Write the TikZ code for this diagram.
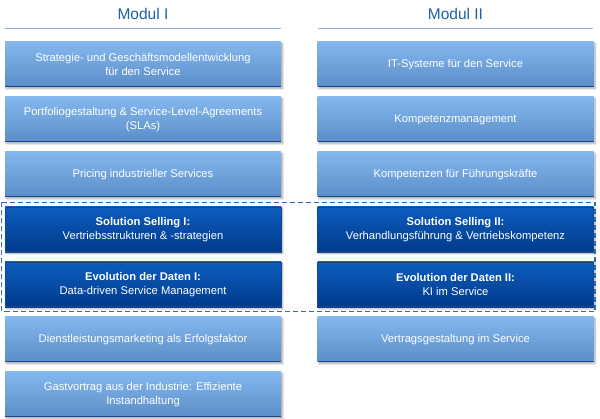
\documentclass[tikz,border=0pt]{standalone}
\usepackage{fontspec}
\setmainfont{Liberation Sans}
\usepackage{tikz}
\usetikzlibrary{shadows.blur}

\definecolor{kopf}{HTML}{1F5FA8}
\definecolor{kopflinie}{HTML}{8EB4E3}
\definecolor{hellOben}{HTML}{84B7EE}
\definecolor{hellUnten}{HTML}{5B8DC8}
\definecolor{dunkelOben}{HTML}{0D5DBE}
\definecolor{dunkelUnten}{HTML}{003A8C}
\definecolor{kante}{HTML}{17468F}
\definecolor{strich}{HTML}{2E6DB4}

\tikzset{
  modul/.style={minimum width=276pt,minimum height=45pt,inner sep=0pt,align=center,
    text=white,font=\fontsize{11.2}{14}\selectfont,
    blur shadow={shadow xshift=1.5pt,shadow yshift=-1.5pt,shadow blur steps=6,shadow opacity=35},
    path picture={\draw[kante,line width=2.5pt]
      (path picture bounding box.south west)--(path picture bounding box.south east);}},
  hell/.style={modul,top color=hellOben,bottom color=hellUnten},
  dunkel/.style={modul,top color=dunkelOben,bottom color=dunkelUnten,draw=kante,line width=0.6pt},
  titel/.style={text=kopf,font=\fontsize{15.5}{18}\selectfont}
}

\begin{document}
\begin{tikzpicture}[x=1pt,y=-1pt]
            \useasboundingbox (0,0) rectangle (600,419);
            % Kopfzeilen
            \node[titel] (m1) at (143,14) {Modul I};
            \node[titel] (m2) at (455.5,14) {Modul II};
            \draw[kopflinie,line width=1pt] (5,29)--(281,29);
            \draw[kopflinie,line width=1pt] (318,29)--(593,29);
            % Modul I
            \node[hell] (a1) at (143,64.5) {Strategie- und Geschäftsmodellentwicklung\\für den Service};
            \node[hell] (a2) at (143,119.5) {Portfoliogestaltung \& Service-Level-Agreements\\(SLAs)};
            \node[hell] (a3) at (143,174.5) {Pricing industrieller Services};
            \node[dunkel] (a4) at (143,229.5) {\textbf{Solution Selling I:}\\Vertriebsstrukturen \& -strategien};
            \node[dunkel] (a5) at (143,284.5) {\textbf{Evolution der Daten I:}\\Data-driven Service Management};
            \node[hell] (a6) at (143,339.5) {Dienstleistungsmarketing als Erfolgsfaktor};
            \node[hell] (a7) at (143,394.5) {Gastvortrag aus der Industrie: Effiziente\\Instandhaltung};
            % Modul II
            \node[hell] (b1) at (455.5,64.5) {IT-Systeme für den Service};
            \node[hell] (b2) at (455.5,119.5) {Kompetenzmanagement};
            \node[hell] (b3) at (455.5,174.5) {Kompetenzen für Führungskräfte};
            \node[dunkel] (b4) at (455.5,229.5) {\textbf{Solution Selling II:}\\Verhandlungsführung \& Vertriebskompetenz};
            \node[dunkel] (b5) at (455.5,284.5) {\textbf{Evolution der Daten II:}\\KI im Service};
            \node[hell] (b6) at (455.5,339.5) {Vertragsgestaltung im Service};
            % gemeinsame Bloecke
            \draw[strich,dash pattern=on 5pt off 3pt,line width=1.4pt] (1.5,202.5) rectangle (595,311.5);
        \end{tikzpicture}
\end{document}
